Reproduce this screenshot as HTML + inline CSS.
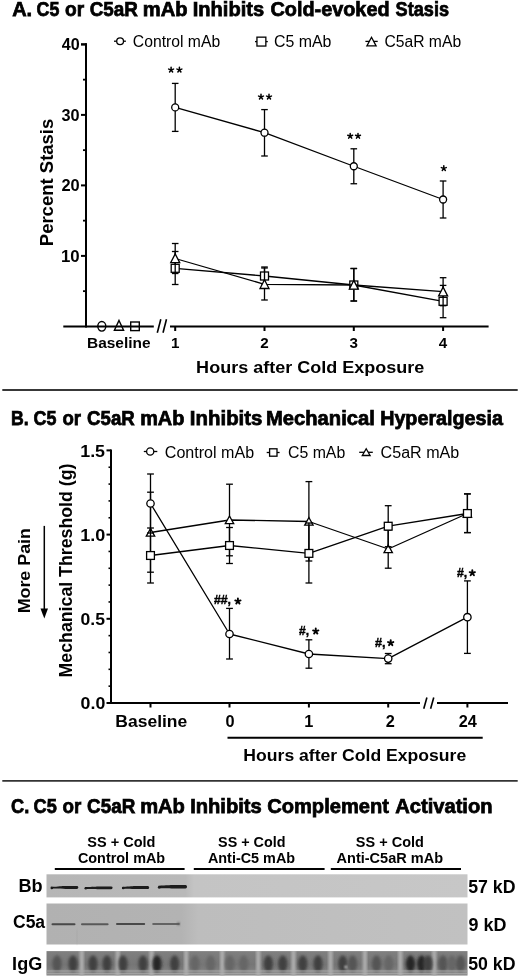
<!DOCTYPE html>
<html><head><meta charset="utf-8"><style>
html,body{margin:0;padding:0;background:#fff;}
svg{display:block;font-family:"Liberation Sans",sans-serif;will-change:transform;opacity:0.999;}
</style></head><body>
<svg width="520" height="980" viewBox="0 0 520 980">
<defs>
<filter id="bl1" x="-20%" y="-100%" width="140%" height="300%"><feGaussianBlur stdDeviation="0.8"/></filter>
<filter id="bl05" x="-20%" y="-100%" width="140%" height="300%"><feGaussianBlur stdDeviation="0.5"/></filter>
<filter id="bl2" x="-100%" y="-100%" width="300%" height="300%"><feGaussianBlur stdDeviation="1.8"/></filter>
<linearGradient id="gIg" x1="0" x2="0" y1="951" y2="975.5" gradientUnits="userSpaceOnUse"><stop offset="0" stop-color="#808080"/><stop offset="0.2" stop-color="#7c7c7c"/><stop offset="0.55" stop-color="#767676"/><stop offset="1" stop-color="#858585"/></linearGradient>
<clipPath id="cIgG"><rect x="46.5" y="951.1" width="421" height="24.4"/></clipPath>
<linearGradient id="gBb" x1="46.5" x2="467.5" y1="0" y2="0" gradientUnits="userSpaceOnUse">
<stop offset="0" stop-color="#b6b6b6"/><stop offset="0.33" stop-color="#b9b9b9"/><stop offset="0.35" stop-color="#c4c4c4"/><stop offset="1" stop-color="#c7c7c7"/></linearGradient>
<linearGradient id="gC5" x1="46.5" x2="467.5" y1="0" y2="0" gradientUnits="userSpaceOnUse">
<stop offset="0" stop-color="#b1b1b1"/><stop offset="0.32" stop-color="#b3b3b3"/><stop offset="0.36" stop-color="#bdbdbd"/><stop offset="1" stop-color="#c1c1c1"/></linearGradient>
</defs>
<rect width="520" height="980" fill="#fff"/>
<text x="12.15" y="16.30" font-size="20.40" font-weight="bold" textLength="20.00" lengthAdjust="spacingAndGlyphs" fill="#000" stroke="#000" stroke-width="0.75">A.</text>
<text x="36.54" y="16.30" font-size="20.40" font-weight="bold" textLength="22.82" lengthAdjust="spacingAndGlyphs" fill="#000" stroke="#000" stroke-width="0.75">C5</text>
<text x="65.08" y="16.30" font-size="20.40" font-weight="bold" textLength="19.15" lengthAdjust="spacingAndGlyphs" fill="#000" stroke="#000" stroke-width="0.75">or</text>
<text x="89.70" y="16.30" font-size="20.40" font-weight="bold" textLength="48.16" lengthAdjust="spacingAndGlyphs" fill="#000" stroke="#000" stroke-width="0.75">C5aR</text>
<text x="142.74" y="16.30" font-size="20.40" font-weight="bold" textLength="44.76" lengthAdjust="spacingAndGlyphs" fill="#000" stroke="#000" stroke-width="0.75">mAb</text>
<text x="192.74" y="16.30" font-size="20.40" font-weight="bold" textLength="71.41" lengthAdjust="spacingAndGlyphs" fill="#000" stroke="#000" stroke-width="0.75">Inhibits</text>
<text x="270.46" y="16.30" font-size="20.40" font-weight="bold" textLength="119.11" lengthAdjust="spacingAndGlyphs" fill="#000" stroke="#000" stroke-width="0.75">Cold-evoked</text>
<text x="395.61" y="16.30" font-size="20.40" font-weight="bold" textLength="53.39" lengthAdjust="spacingAndGlyphs" fill="#000" stroke="#000" stroke-width="0.75">Stasis</text>
<line x1="86.00" y1="43.20" x2="86.00" y2="327.40" stroke="#000" stroke-width="2.0" />
<line x1="63.30" y1="326.40" x2="153.80" y2="326.40" stroke="#000" stroke-width="2.0" />
<line x1="170.00" y1="326.40" x2="488.60" y2="326.40" stroke="#000" stroke-width="2.0" />
<line x1="160.80" y1="319.20" x2="157.30" y2="332.70" stroke="#000" stroke-width="1.6" />
<line x1="166.50" y1="319.20" x2="163.00" y2="332.70" stroke="#000" stroke-width="1.6" />
<line x1="81.00" y1="255.90" x2="86.00" y2="255.90" stroke="#000" stroke-width="2.0" />
<line x1="81.00" y1="185.40" x2="86.00" y2="185.40" stroke="#000" stroke-width="2.0" />
<line x1="81.00" y1="114.90" x2="86.00" y2="114.90" stroke="#000" stroke-width="2.0" />
<line x1="81.00" y1="44.40" x2="86.00" y2="44.40" stroke="#000" stroke-width="2.0" />
<line x1="83.00" y1="291.15" x2="86.00" y2="291.15" stroke="#000" stroke-width="1.8" />
<line x1="83.00" y1="220.65" x2="86.00" y2="220.65" stroke="#000" stroke-width="1.8" />
<line x1="83.00" y1="150.15" x2="86.00" y2="150.15" stroke="#000" stroke-width="1.8" />
<line x1="83.00" y1="79.65" x2="86.00" y2="79.65" stroke="#000" stroke-width="1.8" />
<line x1="81.00" y1="44.40" x2="87.00" y2="44.40" stroke="#000" stroke-width="2.0" />
<text x="61.76" y="50.00" font-size="15.60" font-weight="bold" textLength="17.92" lengthAdjust="spacingAndGlyphs" fill="#000" >40</text>
<text x="61.59" y="120.50" font-size="15.60" font-weight="bold" textLength="18.10" lengthAdjust="spacingAndGlyphs" fill="#000" >30</text>
<text x="61.43" y="191.00" font-size="15.60" font-weight="bold" textLength="18.27" lengthAdjust="spacingAndGlyphs" fill="#000" >20</text>
<text x="60.99" y="261.50" font-size="15.60" font-weight="bold" textLength="18.72" lengthAdjust="spacingAndGlyphs" fill="#000" >10</text>
<line x1="175.20" y1="326.40" x2="175.20" y2="331.00" stroke="#000" stroke-width="2.0" />
<text x="175.20" y="347.60" font-size="15.20" font-weight="bold" text-anchor="middle" fill="#000">1</text>
<line x1="264.50" y1="326.40" x2="264.50" y2="331.00" stroke="#000" stroke-width="2.0" />
<text x="264.50" y="347.60" font-size="15.20" font-weight="bold" text-anchor="middle" fill="#000">2</text>
<line x1="353.80" y1="326.40" x2="353.80" y2="331.00" stroke="#000" stroke-width="2.0" />
<text x="353.80" y="347.60" font-size="15.20" font-weight="bold" text-anchor="middle" fill="#000">3</text>
<line x1="443.10" y1="326.40" x2="443.10" y2="331.00" stroke="#000" stroke-width="2.0" />
<text x="443.10" y="347.60" font-size="15.20" font-weight="bold" text-anchor="middle" fill="#000">4</text>
<text x="87.00" y="347.50" font-size="15.00" font-weight="bold" textLength="63.60" lengthAdjust="spacingAndGlyphs" fill="#000" >Baseline</text>
<text x="196.13" y="372.50" font-size="17.20" font-weight="bold" textLength="228.19" lengthAdjust="spacingAndGlyphs" fill="#000" >Hours after Cold Exposure</text>
<text transform="translate(53.40,246.20) rotate(-90)" x="0" y="0" font-size="17.80" font-weight="bold" textLength="127.49" lengthAdjust="spacingAndGlyphs" fill="#000" >Percent Stasis</text>
<ellipse cx="101.8" cy="326.3" rx="4.0" ry="4.8" fill="none" stroke="#000" stroke-width="1.4"/>
<polygon points="119.00,320.50 123.60,330.20 114.40,330.20" fill="none" stroke="#000" stroke-width="1.4" stroke-linejoin="miter"/>
<rect x="130.70" y="322.00" width="8.6" height="8.6" fill="none" stroke="#000" stroke-width="1.4"/>
<line x1="114.00" y1="41.20" x2="125.90" y2="41.20" stroke="#000" stroke-width="1.3" />
<circle cx="120.10" cy="41.20" r="3.4" fill="#fff" stroke="#000" stroke-width="1.3"/>
<text x="132.81" y="47.20" font-size="15.60" font-weight="normal" textLength="87.36" lengthAdjust="spacingAndGlyphs" fill="#000" >Control mAb</text>
<line x1="255.00" y1="41.60" x2="267.80" y2="41.60" stroke="#000" stroke-width="1.3" />
<rect x="256.95" y="37.15" width="8.9" height="8.9" fill="#fff" stroke="#000" stroke-width="1.3"/>
<text x="274.00" y="47.20" font-size="15.60" font-weight="normal" textLength="57.47" lengthAdjust="spacingAndGlyphs" fill="#000" >C5 mAb</text>
<line x1="365.40" y1="41.40" x2="377.70" y2="41.40" stroke="#000" stroke-width="1.3" />
<polygon points="371.50,37.30 376.10,45.90 366.90,45.90" fill="#fff" stroke="#000" stroke-width="1.3" stroke-linejoin="miter"/>
<text x="384.42" y="47.20" font-size="15.60" font-weight="normal" textLength="76.72" lengthAdjust="spacingAndGlyphs" fill="#000" >C5aR mAb</text>
<line x1="175.20" y1="83.40" x2="175.20" y2="131.40" stroke="#000" stroke-width="1.3" /><line x1="171.90" y1="83.40" x2="178.50" y2="83.40" stroke="#000" stroke-width="1.3" /><line x1="171.90" y1="131.40" x2="178.50" y2="131.40" stroke="#000" stroke-width="1.3" />
<line x1="264.50" y1="109.60" x2="264.50" y2="156.00" stroke="#000" stroke-width="1.3" /><line x1="261.20" y1="109.60" x2="267.80" y2="109.60" stroke="#000" stroke-width="1.3" /><line x1="261.20" y1="156.00" x2="267.80" y2="156.00" stroke="#000" stroke-width="1.3" />
<line x1="353.80" y1="148.80" x2="353.80" y2="183.75" stroke="#000" stroke-width="1.3" /><line x1="350.50" y1="148.80" x2="357.10" y2="148.80" stroke="#000" stroke-width="1.3" /><line x1="350.50" y1="183.75" x2="357.10" y2="183.75" stroke="#000" stroke-width="1.3" />
<line x1="443.10" y1="181.00" x2="443.10" y2="218.00" stroke="#000" stroke-width="1.3" /><line x1="439.80" y1="181.00" x2="446.40" y2="181.00" stroke="#000" stroke-width="1.3" /><line x1="439.80" y1="218.00" x2="446.40" y2="218.00" stroke="#000" stroke-width="1.3" />
<polyline points="175.20,107.40 264.50,132.70 353.80,166.25 443.10,199.50" fill="none" stroke="#000" stroke-width="1.3" stroke-linejoin="round"/>
<circle cx="175.20" cy="107.40" r="3.5" fill="#fff" stroke="#000" stroke-width="1.3"/>
<circle cx="264.50" cy="132.70" r="3.5" fill="#fff" stroke="#000" stroke-width="1.3"/>
<circle cx="353.80" cy="166.25" r="3.5" fill="#fff" stroke="#000" stroke-width="1.3"/>
<circle cx="443.10" cy="199.50" r="3.5" fill="#fff" stroke="#000" stroke-width="1.3"/>
<line x1="175.20" y1="251.50" x2="175.20" y2="284.50" stroke="#000" stroke-width="1.3" /><line x1="171.90" y1="251.50" x2="178.50" y2="251.50" stroke="#000" stroke-width="1.3" /><line x1="171.90" y1="284.50" x2="178.50" y2="284.50" stroke="#000" stroke-width="1.3" />
<line x1="264.50" y1="267.00" x2="264.50" y2="285.00" stroke="#000" stroke-width="1.3" /><line x1="261.20" y1="267.00" x2="267.80" y2="267.00" stroke="#000" stroke-width="1.3" /><line x1="261.20" y1="285.00" x2="267.80" y2="285.00" stroke="#000" stroke-width="1.3" />
<line x1="353.80" y1="268.50" x2="353.80" y2="301.00" stroke="#000" stroke-width="1.3" /><line x1="350.50" y1="268.50" x2="357.10" y2="268.50" stroke="#000" stroke-width="1.3" /><line x1="350.50" y1="301.00" x2="357.10" y2="301.00" stroke="#000" stroke-width="1.3" />
<line x1="443.10" y1="285.40" x2="443.10" y2="317.70" stroke="#000" stroke-width="1.3" /><line x1="439.80" y1="285.40" x2="446.40" y2="285.40" stroke="#000" stroke-width="1.3" /><line x1="439.80" y1="317.70" x2="446.40" y2="317.70" stroke="#000" stroke-width="1.3" />
<polyline points="175.20,268.30 264.50,276.00 353.80,285.00 443.10,301.30" fill="none" stroke="#000" stroke-width="1.3" stroke-linejoin="round"/>
<rect x="171.20" y="264.30" width="8.0" height="8.0" fill="#fff" stroke="#000" stroke-width="1.3"/>
<rect x="260.50" y="272.00" width="8.0" height="8.0" fill="#fff" stroke="#000" stroke-width="1.3"/>
<rect x="349.80" y="281.00" width="8.0" height="8.0" fill="#fff" stroke="#000" stroke-width="1.3"/>
<rect x="439.10" y="297.30" width="8.0" height="8.0" fill="#fff" stroke="#000" stroke-width="1.3"/>
<line x1="175.20" y1="243.50" x2="175.20" y2="273.50" stroke="#000" stroke-width="1.3" /><line x1="171.90" y1="243.50" x2="178.50" y2="243.50" stroke="#000" stroke-width="1.3" /><line x1="171.90" y1="273.50" x2="178.50" y2="273.50" stroke="#000" stroke-width="1.3" />
<line x1="264.50" y1="268.00" x2="264.50" y2="300.00" stroke="#000" stroke-width="1.3" /><line x1="261.20" y1="268.00" x2="267.80" y2="268.00" stroke="#000" stroke-width="1.3" /><line x1="261.20" y1="300.00" x2="267.80" y2="300.00" stroke="#000" stroke-width="1.3" />
<line x1="353.80" y1="268.50" x2="353.80" y2="301.00" stroke="#000" stroke-width="1.3" /><line x1="350.50" y1="268.50" x2="357.10" y2="268.50" stroke="#000" stroke-width="1.3" /><line x1="350.50" y1="301.00" x2="357.10" y2="301.00" stroke="#000" stroke-width="1.3" />
<line x1="443.10" y1="277.70" x2="443.10" y2="305.70" stroke="#000" stroke-width="1.3" /><line x1="439.80" y1="277.70" x2="446.40" y2="277.70" stroke="#000" stroke-width="1.3" /><line x1="439.80" y1="305.70" x2="446.40" y2="305.70" stroke="#000" stroke-width="1.3" />
<polyline points="175.20,258.50 264.50,284.30 353.80,285.00 443.10,291.70" fill="none" stroke="#000" stroke-width="1.3" stroke-linejoin="round"/>
<polygon points="175.20,253.90 179.70,262.70 170.70,262.70" fill="#fff" stroke="#000" stroke-width="1.3" stroke-linejoin="miter"/>
<polygon points="264.50,279.70 269.00,288.50 260.00,288.50" fill="#fff" stroke="#000" stroke-width="1.3" stroke-linejoin="miter"/>
<polygon points="353.80,280.40 358.30,289.20 349.30,289.20" fill="#fff" stroke="#000" stroke-width="1.3" stroke-linejoin="miter"/>
<polygon points="443.10,287.10 447.60,295.90 438.60,295.90" fill="#fff" stroke="#000" stroke-width="1.3" stroke-linejoin="miter"/>
<path d="M171.10,69.90L171.10,67.30M171.10,69.90L173.57,69.10M171.10,69.90L172.63,72.00M171.10,69.90L169.57,72.00M171.10,69.90L168.63,69.10" stroke="#000" stroke-width="1.5" stroke-linecap="round" fill="none"/>
<path d="M179.40,69.90L179.40,67.30M179.40,69.90L181.87,69.10M179.40,69.90L180.93,72.00M179.40,69.90L177.87,72.00M179.40,69.90L176.93,69.10" stroke="#000" stroke-width="1.5" stroke-linecap="round" fill="none"/>
<path d="M261.00,96.90L261.00,94.30M261.00,96.90L263.47,96.10M261.00,96.90L262.53,99.00M261.00,96.90L259.47,99.00M261.00,96.90L258.53,96.10" stroke="#000" stroke-width="1.5" stroke-linecap="round" fill="none"/>
<path d="M269.00,96.90L269.00,94.30M269.00,96.90L271.47,96.10M269.00,96.90L270.53,99.00M269.00,96.90L267.47,99.00M269.00,96.90L266.53,96.10" stroke="#000" stroke-width="1.5" stroke-linecap="round" fill="none"/>
<path d="M350.20,136.00L350.20,133.40M350.20,136.00L352.67,135.20M350.20,136.00L351.73,138.10M350.20,136.00L348.67,138.10M350.20,136.00L347.73,135.20" stroke="#000" stroke-width="1.5" stroke-linecap="round" fill="none"/>
<path d="M358.00,136.00L358.00,133.40M358.00,136.00L360.47,135.20M358.00,136.00L359.53,138.10M358.00,136.00L356.47,138.10M358.00,136.00L355.53,135.20" stroke="#000" stroke-width="1.5" stroke-linecap="round" fill="none"/>
<path d="M443.80,168.40L443.80,165.80M443.80,168.40L446.27,167.60M443.80,168.40L445.33,170.50M443.80,168.40L442.27,170.50M443.80,168.40L441.33,167.60" stroke="#000" stroke-width="1.5" stroke-linecap="round" fill="none"/>
<line x1="2.30" y1="390.00" x2="517.70" y2="390.00" stroke="#383838" stroke-width="1.8" />
<text x="11.00" y="424.70" font-size="20.40" font-weight="bold" textLength="17.69" lengthAdjust="spacingAndGlyphs" fill="#000" stroke="#000" stroke-width="0.75">B.</text>
<text x="33.53" y="424.70" font-size="20.40" font-weight="bold" textLength="22.93" lengthAdjust="spacingAndGlyphs" fill="#000" stroke="#000" stroke-width="0.75">C5</text>
<text x="62.51" y="424.70" font-size="20.40" font-weight="bold" textLength="18.62" lengthAdjust="spacingAndGlyphs" fill="#000" stroke="#000" stroke-width="0.75">or</text>
<text x="87.10" y="424.70" font-size="20.40" font-weight="bold" textLength="47.65" lengthAdjust="spacingAndGlyphs" fill="#000" stroke="#000" stroke-width="0.75">C5aR</text>
<text x="140.16" y="424.70" font-size="20.40" font-weight="bold" textLength="44.23" lengthAdjust="spacingAndGlyphs" fill="#000" stroke="#000" stroke-width="0.75">mAb</text>
<text x="189.82" y="424.70" font-size="20.40" font-weight="bold" textLength="72.65" lengthAdjust="spacingAndGlyphs" fill="#000" stroke="#000" stroke-width="0.75">Inhibits</text>
<text x="266.04" y="424.70" font-size="20.40" font-weight="bold" textLength="108.75" lengthAdjust="spacingAndGlyphs" fill="#000" stroke="#000" stroke-width="0.75">Mechanical</text>
<text x="380.17" y="424.70" font-size="20.40" font-weight="bold" textLength="122.80" lengthAdjust="spacingAndGlyphs" fill="#000" stroke="#000" stroke-width="0.75">Hyperalgesia</text>
<line x1="111.00" y1="449.50" x2="111.00" y2="704.00" stroke="#000" stroke-width="2.0" />
<line x1="107.50" y1="703.00" x2="420.00" y2="703.00" stroke="#000" stroke-width="2.0" />
<line x1="437.00" y1="703.00" x2="508.00" y2="703.00" stroke="#000" stroke-width="2.0" />
<line x1="426.90" y1="697.50" x2="423.75" y2="708.75" stroke="#000" stroke-width="1.6" />
<line x1="433.75" y1="697.50" x2="430.60" y2="708.75" stroke="#000" stroke-width="1.6" />
<line x1="106.50" y1="703.00" x2="111.00" y2="703.00" stroke="#000" stroke-width="2.0" />
<line x1="108.50" y1="686.16" x2="111.00" y2="686.16" stroke="#000" stroke-width="1.6" />
<line x1="108.50" y1="669.32" x2="111.00" y2="669.32" stroke="#000" stroke-width="1.6" />
<line x1="108.50" y1="652.48" x2="111.00" y2="652.48" stroke="#000" stroke-width="1.6" />
<line x1="108.50" y1="635.64" x2="111.00" y2="635.64" stroke="#000" stroke-width="1.6" />
<line x1="106.50" y1="618.80" x2="111.00" y2="618.80" stroke="#000" stroke-width="2.0" />
<line x1="108.50" y1="601.96" x2="111.00" y2="601.96" stroke="#000" stroke-width="1.6" />
<line x1="108.50" y1="585.12" x2="111.00" y2="585.12" stroke="#000" stroke-width="1.6" />
<line x1="108.50" y1="568.28" x2="111.00" y2="568.28" stroke="#000" stroke-width="1.6" />
<line x1="108.50" y1="551.44" x2="111.00" y2="551.44" stroke="#000" stroke-width="1.6" />
<line x1="106.50" y1="534.60" x2="111.00" y2="534.60" stroke="#000" stroke-width="2.0" />
<line x1="108.50" y1="517.76" x2="111.00" y2="517.76" stroke="#000" stroke-width="1.6" />
<line x1="108.50" y1="500.92" x2="111.00" y2="500.92" stroke="#000" stroke-width="1.6" />
<line x1="108.50" y1="484.08" x2="111.00" y2="484.08" stroke="#000" stroke-width="1.6" />
<line x1="108.50" y1="467.24" x2="111.00" y2="467.24" stroke="#000" stroke-width="1.6" />
<line x1="106.50" y1="450.40" x2="111.00" y2="450.40" stroke="#000" stroke-width="2.0" />
<text x="80.23" y="456.70" font-size="17.40" font-weight="bold" textLength="24.82" lengthAdjust="spacingAndGlyphs" fill="#000" >1.5</text>
<text x="80.22" y="540.90" font-size="17.40" font-weight="bold" textLength="25.11" lengthAdjust="spacingAndGlyphs" fill="#000" >1.0</text>
<text x="80.60" y="625.10" font-size="17.40" font-weight="bold" textLength="24.45" lengthAdjust="spacingAndGlyphs" fill="#000" >0.5</text>
<text x="80.59" y="709.30" font-size="17.40" font-weight="bold" textLength="24.73" lengthAdjust="spacingAndGlyphs" fill="#000" >0.0</text>
<line x1="150.50" y1="703.00" x2="150.50" y2="707.50" stroke="#000" stroke-width="2.0" />
<line x1="229.50" y1="703.00" x2="229.50" y2="707.50" stroke="#000" stroke-width="2.0" />
<line x1="308.90" y1="703.00" x2="308.90" y2="707.50" stroke="#000" stroke-width="2.0" />
<line x1="388.20" y1="703.00" x2="388.20" y2="707.50" stroke="#000" stroke-width="2.0" />
<line x1="467.40" y1="703.00" x2="467.40" y2="707.50" stroke="#000" stroke-width="2.0" />
<text x="115.36" y="726.60" font-size="16.80" font-weight="bold" textLength="71.91" lengthAdjust="spacingAndGlyphs" fill="#000" >Baseline</text>
<text x="230.10" y="727.40" font-size="16.30" font-weight="bold" text-anchor="middle" fill="#000">0</text>
<text x="308.90" y="727.40" font-size="16.30" font-weight="bold" text-anchor="middle" fill="#000">1</text>
<text x="390.20" y="727.40" font-size="16.30" font-weight="bold" text-anchor="middle" fill="#000">2</text>
<text x="467.70" y="727.40" font-size="16.30" font-weight="bold" text-anchor="middle" fill="#000">24</text>
<line x1="227.50" y1="737.80" x2="482.70" y2="737.80" stroke="#000" stroke-width="2.0" />
<text x="243.36" y="760.90" font-size="16.80" font-weight="bold" textLength="222.85" lengthAdjust="spacingAndGlyphs" fill="#000" >Hours after Cold Exposure</text>
<text transform="translate(72.20,677.45) rotate(-90)" x="0" y="0" font-size="17.60" font-weight="bold" textLength="213.89" lengthAdjust="spacingAndGlyphs" fill="#000" >Mechanical Threshold (g)</text>
<text transform="translate(29.80,613.36) rotate(-90)" x="0" y="0" font-size="17.40" font-weight="bold" textLength="85.31" lengthAdjust="spacingAndGlyphs" fill="#000" >More Pain</text>
<line x1="44.30" y1="525.90" x2="44.30" y2="610.00" stroke="#000" stroke-width="1.5" />
<polygon points="40.5,608.5 48,608.5 44.3,618.5" fill="#000"/>
<line x1="143.80" y1="451.50" x2="157.30" y2="451.50" stroke="#000" stroke-width="1.3" />
<circle cx="150.20" cy="451.50" r="3.6" fill="#fff" stroke="#000" stroke-width="1.3"/>
<text x="164.80" y="457.60" font-size="15.80" font-weight="normal" textLength="89.29" lengthAdjust="spacingAndGlyphs" fill="#000" >Control mAb</text>
<line x1="266.70" y1="452.50" x2="279.60" y2="452.50" stroke="#000" stroke-width="1.3" />
<rect x="269.60" y="448.80" width="7.4" height="7.4" fill="#fff" stroke="#000" stroke-width="1.3"/>
<text x="288.01" y="457.60" font-size="15.80" font-weight="normal" textLength="57.27" lengthAdjust="spacingAndGlyphs" fill="#000" >C5 mAb</text>
<line x1="359.20" y1="452.30" x2="372.80" y2="452.30" stroke="#000" stroke-width="1.3" />
<polygon points="366.20,448.70 370.10,455.50 362.30,455.50" fill="#fff" stroke="#000" stroke-width="1.3" stroke-linejoin="miter"/>
<text x="380.60" y="457.60" font-size="15.80" font-weight="normal" textLength="78.66" lengthAdjust="spacingAndGlyphs" fill="#000" >C5aR mAb</text>
<line x1="150.50" y1="492.20" x2="150.50" y2="572.20" stroke="#000" stroke-width="1.3" /><line x1="147.10" y1="492.20" x2="153.90" y2="492.20" stroke="#000" stroke-width="1.3" /><line x1="147.10" y1="572.20" x2="153.90" y2="572.20" stroke="#000" stroke-width="1.3" />
<line x1="229.50" y1="484.20" x2="229.50" y2="555.80" stroke="#000" stroke-width="1.3" /><line x1="226.10" y1="484.20" x2="232.90" y2="484.20" stroke="#000" stroke-width="1.3" /><line x1="226.10" y1="555.80" x2="232.90" y2="555.80" stroke="#000" stroke-width="1.3" />
<line x1="308.90" y1="481.60" x2="308.90" y2="561.00" stroke="#000" stroke-width="1.3" /><line x1="305.50" y1="481.60" x2="312.30" y2="481.60" stroke="#000" stroke-width="1.3" /><line x1="305.50" y1="561.00" x2="312.30" y2="561.00" stroke="#000" stroke-width="1.3" />
<line x1="388.20" y1="530.00" x2="388.20" y2="568.20" stroke="#000" stroke-width="1.3" /><line x1="384.80" y1="530.00" x2="391.60" y2="530.00" stroke="#000" stroke-width="1.3" /><line x1="384.80" y1="568.20" x2="391.60" y2="568.20" stroke="#000" stroke-width="1.3" />
<line x1="467.40" y1="493.90" x2="467.40" y2="532.60" stroke="#000" stroke-width="1.3" /><line x1="464.00" y1="493.90" x2="470.80" y2="493.90" stroke="#000" stroke-width="1.3" /><line x1="464.00" y1="532.60" x2="470.80" y2="532.60" stroke="#000" stroke-width="1.3" />
<polyline points="150.50,532.50 229.50,520.00 308.90,521.50 388.20,549.00 467.40,513.50" fill="none" stroke="#000" stroke-width="1.3" stroke-linejoin="round"/>
<polygon points="150.50,528.50 154.70,536.10 146.30,536.10" fill="#fff" stroke="#000" stroke-width="1.3" stroke-linejoin="miter"/>
<polygon points="229.50,516.00 233.70,523.60 225.30,523.60" fill="#fff" stroke="#000" stroke-width="1.3" stroke-linejoin="miter"/>
<polygon points="308.90,517.50 313.10,525.10 304.70,525.10" fill="#fff" stroke="#000" stroke-width="1.3" stroke-linejoin="miter"/>
<polygon points="388.20,545.00 392.40,552.60 384.00,552.60" fill="#fff" stroke="#000" stroke-width="1.3" stroke-linejoin="miter"/>
<polygon points="467.40,509.50 471.60,517.10 463.20,517.10" fill="#fff" stroke="#000" stroke-width="1.3" stroke-linejoin="miter"/>
<line x1="150.50" y1="528.00" x2="150.50" y2="583.00" stroke="#000" stroke-width="1.3" /><line x1="147.10" y1="528.00" x2="153.90" y2="528.00" stroke="#000" stroke-width="1.3" /><line x1="147.10" y1="583.00" x2="153.90" y2="583.00" stroke="#000" stroke-width="1.3" />
<line x1="229.50" y1="527.50" x2="229.50" y2="563.50" stroke="#000" stroke-width="1.3" /><line x1="226.10" y1="527.50" x2="232.90" y2="527.50" stroke="#000" stroke-width="1.3" /><line x1="226.10" y1="563.50" x2="232.90" y2="563.50" stroke="#000" stroke-width="1.3" />
<line x1="308.90" y1="523.00" x2="308.90" y2="583.00" stroke="#000" stroke-width="1.3" /><line x1="305.50" y1="523.00" x2="312.30" y2="523.00" stroke="#000" stroke-width="1.3" /><line x1="305.50" y1="583.00" x2="312.30" y2="583.00" stroke="#000" stroke-width="1.3" />
<line x1="388.20" y1="505.70" x2="388.20" y2="546.70" stroke="#000" stroke-width="1.3" /><line x1="384.80" y1="505.70" x2="391.60" y2="505.70" stroke="#000" stroke-width="1.3" /><line x1="384.80" y1="546.70" x2="391.60" y2="546.70" stroke="#000" stroke-width="1.3" />
<line x1="467.40" y1="493.90" x2="467.40" y2="532.60" stroke="#000" stroke-width="1.3" /><line x1="464.00" y1="493.90" x2="470.80" y2="493.90" stroke="#000" stroke-width="1.3" /><line x1="464.00" y1="532.60" x2="470.80" y2="532.60" stroke="#000" stroke-width="1.3" />
<polyline points="150.50,555.50 229.50,545.50 308.90,553.40 388.20,526.20 467.40,513.50" fill="none" stroke="#000" stroke-width="1.3" stroke-linejoin="round"/>
<rect x="146.60" y="551.60" width="7.8" height="7.8" fill="#fff" stroke="#000" stroke-width="1.3"/>
<rect x="225.60" y="541.60" width="7.8" height="7.8" fill="#fff" stroke="#000" stroke-width="1.3"/>
<rect x="305.00" y="549.50" width="7.8" height="7.8" fill="#fff" stroke="#000" stroke-width="1.3"/>
<rect x="384.30" y="522.30" width="7.8" height="7.8" fill="#fff" stroke="#000" stroke-width="1.3"/>
<rect x="463.50" y="509.60" width="7.8" height="7.8" fill="#fff" stroke="#000" stroke-width="1.3"/>
<line x1="150.50" y1="474.00" x2="150.50" y2="533.00" stroke="#000" stroke-width="1.3" /><line x1="147.10" y1="474.00" x2="153.90" y2="474.00" stroke="#000" stroke-width="1.3" /><line x1="147.10" y1="533.00" x2="153.90" y2="533.00" stroke="#000" stroke-width="1.3" />
<line x1="229.50" y1="608.40" x2="229.50" y2="659.00" stroke="#000" stroke-width="1.3" /><line x1="226.10" y1="608.40" x2="232.90" y2="608.40" stroke="#000" stroke-width="1.3" /><line x1="226.10" y1="659.00" x2="232.90" y2="659.00" stroke="#000" stroke-width="1.3" />
<line x1="308.90" y1="639.80" x2="308.90" y2="668.20" stroke="#000" stroke-width="1.3" /><line x1="305.50" y1="639.80" x2="312.30" y2="639.80" stroke="#000" stroke-width="1.3" /><line x1="305.50" y1="668.20" x2="312.30" y2="668.20" stroke="#000" stroke-width="1.3" />
<line x1="388.20" y1="653.50" x2="388.20" y2="663.70" stroke="#000" stroke-width="1.3" /><line x1="384.80" y1="653.50" x2="391.60" y2="653.50" stroke="#000" stroke-width="1.3" /><line x1="384.80" y1="663.70" x2="391.60" y2="663.70" stroke="#000" stroke-width="1.3" />
<line x1="467.40" y1="580.90" x2="467.40" y2="653.40" stroke="#000" stroke-width="1.3" /><line x1="464.00" y1="580.90" x2="470.80" y2="580.90" stroke="#000" stroke-width="1.3" /><line x1="464.00" y1="653.40" x2="470.80" y2="653.40" stroke="#000" stroke-width="1.3" />
<polyline points="150.50,503.50 229.50,634.00 308.90,654.00 388.20,658.60 467.40,617.20" fill="none" stroke="#000" stroke-width="1.3" stroke-linejoin="round"/>
<circle cx="150.50" cy="503.50" r="3.7" fill="#fff" stroke="#000" stroke-width="1.3"/>
<circle cx="229.50" cy="634.00" r="3.7" fill="#fff" stroke="#000" stroke-width="1.3"/>
<circle cx="308.90" cy="654.00" r="3.7" fill="#fff" stroke="#000" stroke-width="1.3"/>
<circle cx="388.20" cy="658.60" r="3.7" fill="#fff" stroke="#000" stroke-width="1.3"/>
<circle cx="467.40" cy="617.20" r="3.7" fill="#fff" stroke="#000" stroke-width="1.3"/>
<text x="213.91" y="604.00" font-size="13.50" font-weight="bold" textLength="17.15" lengthAdjust="spacingAndGlyphs" fill="#000" stroke="#000" stroke-width="0.45">##,</text>
<path d="M237.90,601.30L237.90,598.50M237.90,601.30L240.56,600.43M237.90,601.30L239.55,603.57M237.90,601.30L236.25,603.57M237.90,601.30L235.24,600.43" stroke="#000" stroke-width="1.9" stroke-linecap="round" fill="none"/>
<text x="299.12" y="634.60" font-size="13.50" font-weight="bold" textLength="10.01" lengthAdjust="spacingAndGlyphs" fill="#000" stroke="#000" stroke-width="0.45">#,</text>
<path d="M315.75,631.30L315.75,628.50M315.75,631.30L318.41,630.43M315.75,631.30L317.40,633.57M315.75,631.30L314.10,633.57M315.75,631.30L313.09,630.43" stroke="#000" stroke-width="1.9" stroke-linecap="round" fill="none"/>
<text x="375.01" y="646.60" font-size="13.50" font-weight="bold" textLength="10.56" lengthAdjust="spacingAndGlyphs" fill="#000" stroke="#000" stroke-width="0.45">#,</text>
<path d="M390.70,642.90L390.70,640.10M390.70,642.90L393.36,642.03M390.70,642.90L392.35,645.17M390.70,642.90L389.05,645.17M390.70,642.90L388.04,642.03" stroke="#000" stroke-width="1.9" stroke-linecap="round" fill="none"/>
<text x="456.92" y="576.60" font-size="13.50" font-weight="bold" textLength="10.23" lengthAdjust="spacingAndGlyphs" fill="#000" stroke="#000" stroke-width="0.45">#,</text>
<path d="M472.30,573.00L472.30,570.20M472.30,573.00L474.96,572.13M472.30,573.00L473.95,575.27M472.30,573.00L470.65,575.27M472.30,573.00L469.64,572.13" stroke="#000" stroke-width="1.9" stroke-linecap="round" fill="none"/>
<line x1="2.30" y1="780.80" x2="517.70" y2="780.80" stroke="#333" stroke-width="1.8" />
<text x="11.02" y="812.90" font-size="20.40" font-weight="bold" textLength="18.20" lengthAdjust="spacingAndGlyphs" fill="#000" stroke="#000" stroke-width="0.75">C.</text>
<text x="33.52" y="812.90" font-size="20.40" font-weight="bold" textLength="23.24" lengthAdjust="spacingAndGlyphs" fill="#000" stroke="#000" stroke-width="0.75">C5</text>
<text x="62.50" y="812.90" font-size="20.40" font-weight="bold" textLength="18.84" lengthAdjust="spacingAndGlyphs" fill="#000" stroke="#000" stroke-width="0.75">or</text>
<text x="87.10" y="812.90" font-size="20.40" font-weight="bold" textLength="48.16" lengthAdjust="spacingAndGlyphs" fill="#000" stroke="#000" stroke-width="0.75">C5aR</text>
<text x="140.14" y="812.90" font-size="20.40" font-weight="bold" textLength="44.76" lengthAdjust="spacingAndGlyphs" fill="#000" stroke="#000" stroke-width="0.75">mAb</text>
<text x="190.14" y="812.90" font-size="20.40" font-weight="bold" textLength="71.62" lengthAdjust="spacingAndGlyphs" fill="#000" stroke="#000" stroke-width="0.75">Inhibits</text>
<text x="267.15" y="812.90" font-size="20.40" font-weight="bold" textLength="121.83" lengthAdjust="spacingAndGlyphs" fill="#000" stroke="#000" stroke-width="0.75">Complement</text>
<text x="395.25" y="812.90" font-size="20.40" font-weight="bold" textLength="97.29" lengthAdjust="spacingAndGlyphs" fill="#000" stroke="#000" stroke-width="0.75">Activation</text>
<text x="87.26" y="846.60" font-size="14.60" font-weight="bold" textLength="68.19" lengthAdjust="spacingAndGlyphs" fill="#000" >SS + Cold</text>
<text x="77.92" y="863.10" font-size="14.60" font-weight="bold" textLength="87.25" lengthAdjust="spacingAndGlyphs" fill="#000" >Control mAb</text>
<text x="218.07" y="846.60" font-size="14.60" font-weight="bold" textLength="67.47" lengthAdjust="spacingAndGlyphs" fill="#000" >SS + Cold</text>
<text x="207.94" y="863.10" font-size="14.60" font-weight="bold" textLength="87.14" lengthAdjust="spacingAndGlyphs" fill="#000" >Anti-C5 mAb</text>
<text x="355.87" y="846.60" font-size="14.60" font-weight="bold" textLength="68.08" lengthAdjust="spacingAndGlyphs" fill="#000" >SS + Cold</text>
<text x="336.54" y="863.10" font-size="14.60" font-weight="bold" textLength="106.52" lengthAdjust="spacingAndGlyphs" fill="#000" >Anti-C5aR mAb</text>
<line x1="54.80" y1="869.00" x2="184.60" y2="869.00" stroke="#000" stroke-width="2.0" />
<line x1="193.80" y1="869.00" x2="324.60" y2="869.00" stroke="#000" stroke-width="2.0" />
<line x1="330.80" y1="869.00" x2="461.00" y2="869.00" stroke="#000" stroke-width="2.0" />
<rect x="46.5" y="874.3" width="421" height="23.1" fill="url(#gBb)"/>
<rect x="46.5" y="903.5" width="421" height="41.0" fill="url(#gC5)"/>
<rect x="46.5" y="951.1" width="421" height="24.4" fill="url(#gIg)"/>
<g filter="url(#bl05)" fill="#1a1a1a"><path d="M51.1,887.0 C59.065,886.7 61.065,886.1 66.065,886.1 L76.8,886.1 Q78.3,886.1 78.3,887.5 Q78.3,888.9 76.8,888.9 L66.065,888.9 C61.065,888.9 59.065,888.3 51.1,888.5999999999999 Z"/><circle cx="51.800000000000004" cy="887.9" r="1.3"/></g>
<g filter="url(#bl05)" fill="#1a1a1a"><path d="M85.1,887.0999999999999 C93.19999999999999,886.8 95.19999999999999,886.4499999999999 100.19999999999999,886.4499999999999 L111.1,886.4499999999999 Q112.6,886.4499999999999 112.6,887.8 Q112.6,889.15 111.1,889.15 L100.19999999999999,889.15 C95.19999999999999,889.15 93.19999999999999,888.8 85.1,889.0999999999999 Z"/><circle cx="85.8" cy="888.1999999999999" r="1.3"/></g>
<g filter="url(#bl05)" fill="#1a1a1a"><path d="M122.5,886.9 C130.24,886.6 132.24,886.1 137.24,886.1 L147.7,886.1 Q149.2,886.1 149.2,887.6 Q149.2,889.1 147.7,889.1 L137.24,889.1 C132.24,889.1 130.24,888.6 122.5,888.9 Z"/><circle cx="123.2" cy="888.0" r="1.3"/></g>
<g filter="url(#bl05)" fill="#1a1a1a"><path d="M158.5,885.8 C167.05,885.5 169.05,885.0999999999999 174.05,885.0999999999999 L185.5,885.0999999999999 Q187.0,885.0999999999999 187.0,886.8 Q187.0,888.5 185.5,888.5 L174.05,888.5 C169.05,888.5 167.05,888.0999999999999 158.5,888.3999999999999 Z"/><circle cx="159.2" cy="887.1999999999999" r="1.3"/></g>
<rect x="51.5" y="923.3" width="24.0" height="2.0" rx="1" fill="#484848" filter="url(#bl05)"/>
<rect x="81" y="923.3499999999999" width="27.599999999999994" height="1.9" rx="1" fill="#595959" filter="url(#bl05)"/>
<rect x="116" y="923.0" width="29.19999999999999" height="2.0" rx="1" fill="#484848" filter="url(#bl05)"/>
<rect x="152.2" y="923.1" width="27.600000000000023" height="1.8" rx="1" fill="#646464" filter="url(#bl05)"/>
<circle cx="178.5" cy="923.8" r="1.4" fill="#555" filter="url(#bl1)"/>
<rect x="76.5" y="929" width="1" height="15" fill="#a5a5a5" filter="url(#bl1)"/>
<g clip-path="url(#cIgG)">
<rect x="79.5" y="945" width="4.4" height="36" fill="#ababab" filter="url(#bl1)"/>
<rect x="115.6" y="945" width="4.4" height="36" fill="#ababab" filter="url(#bl1)"/>
<rect x="149.3" y="945" width="4.4" height="36" fill="#ababab" filter="url(#bl1)"/>
<rect x="184.0" y="945" width="4.4" height="36" fill="#ababab" filter="url(#bl1)"/>
<rect x="220.0" y="945" width="4.4" height="36" fill="#ababab" filter="url(#bl1)"/>
<rect x="256.1" y="945" width="4.4" height="36" fill="#ababab" filter="url(#bl1)"/>
<rect x="291.3" y="945" width="4.4" height="36" fill="#ababab" filter="url(#bl1)"/>
<rect x="328.3" y="945" width="4.4" height="36" fill="#ababab" filter="url(#bl1)"/>
<rect x="362.7" y="945" width="4.4" height="36" fill="#ababab" filter="url(#bl1)"/>
<rect x="398.1" y="945" width="4.4" height="36" fill="#ababab" filter="url(#bl1)"/>
<rect x="432.1" y="945" width="4.4" height="36" fill="#ababab" filter="url(#bl1)"/>
<ellipse cx="57" cy="964.0" rx="4.6" ry="8.8" fill="#555" filter="url(#bl2)"/>
<ellipse cx="73" cy="964.0" rx="4.6" ry="8.8" fill="#404040" filter="url(#bl2)"/>
<ellipse cx="93" cy="964.0" rx="4.6" ry="8.8" fill="#404040" filter="url(#bl2)"/>
<ellipse cx="107" cy="964.0" rx="4.6" ry="8.8" fill="#404040" filter="url(#bl2)"/>
<ellipse cx="123" cy="964.0" rx="4.6" ry="8.8" fill="#404040" filter="url(#bl2)"/>
<ellipse cx="143" cy="964.0" rx="4.6" ry="8.8" fill="#404040" filter="url(#bl2)"/>
<ellipse cx="157" cy="964.0" rx="4.6" ry="8.8" fill="#282828" filter="url(#bl2)"/>
<ellipse cx="174.6" cy="964.0" rx="4.6" ry="8.8" fill="#404040" filter="url(#bl2)"/>
<ellipse cx="195" cy="964.0" rx="4.6" ry="8.8" fill="#666" filter="url(#bl2)"/>
<ellipse cx="210.6" cy="964.0" rx="4.6" ry="8.8" fill="#666" filter="url(#bl2)"/>
<ellipse cx="230" cy="964.0" rx="4.6" ry="8.8" fill="#666" filter="url(#bl2)"/>
<ellipse cx="243.7" cy="964.0" rx="4.6" ry="8.8" fill="#666" filter="url(#bl2)"/>
<ellipse cx="268.3" cy="964.0" rx="4.6" ry="8.8" fill="#404040" filter="url(#bl2)"/>
<ellipse cx="282.8" cy="964.0" rx="4.6" ry="8.8" fill="#404040" filter="url(#bl2)"/>
<ellipse cx="302.8" cy="964.0" rx="4.6" ry="8.8" fill="#404040" filter="url(#bl2)"/>
<ellipse cx="318" cy="964.0" rx="4.6" ry="8.8" fill="#404040" filter="url(#bl2)"/>
<ellipse cx="342.8" cy="964.0" rx="4.6" ry="8.8" fill="#404040" filter="url(#bl2)"/>
<ellipse cx="352.6" cy="964.0" rx="4.6" ry="8.8" fill="#555" filter="url(#bl2)"/>
<ellipse cx="376.5" cy="964.0" rx="4.6" ry="8.8" fill="#555" filter="url(#bl2)"/>
<ellipse cx="388.8" cy="964.0" rx="4.6" ry="8.8" fill="#666" filter="url(#bl2)"/>
<ellipse cx="410.5" cy="964.0" rx="4.6" ry="8.8" fill="#282828" filter="url(#bl2)"/>
<ellipse cx="421.6" cy="964.0" rx="4.6" ry="8.8" fill="#282828" filter="url(#bl2)"/>
<ellipse cx="428" cy="964.0" rx="4.6" ry="8.8" fill="#404040" filter="url(#bl2)"/>
<ellipse cx="443" cy="964.0" rx="4.6" ry="8.8" fill="#555" filter="url(#bl2)"/>
<ellipse cx="452" cy="964.0" rx="4.6" ry="8.8" fill="#666" filter="url(#bl2)"/>
<ellipse cx="460.6" cy="964.0" rx="4.6" ry="8.8" fill="#555" filter="url(#bl2)"/>
<circle cx="345.8" cy="967" r="1.3" fill="#ddd" filter="url(#bl1)"/>
<rect x="46.5" y="969.8" width="421" height="6" fill="#a0a0a0" opacity="0.4"/>
<rect x="46.5" y="970.6" width="421" height="0.8" fill="#b8b8b8" opacity="0.6"/>
<rect x="46.5" y="973.0" width="421" height="0.8" fill="#b8b8b8" opacity="0.6"/>
</g>
<text x="18.52" y="891.60" font-size="18.00" font-weight="bold" textLength="24.16" lengthAdjust="spacingAndGlyphs" fill="#000" >Bb</text>
<text x="13.00" y="928.20" font-size="18.00" font-weight="bold" textLength="32.12" lengthAdjust="spacingAndGlyphs" fill="#000" >C5a</text>
<text x="12.13" y="969.80" font-size="18.00" font-weight="bold" textLength="30.08" lengthAdjust="spacingAndGlyphs" fill="#000" >IgG</text>
<text x="468.17" y="892.90" font-size="18.40" font-weight="bold" textLength="47.30" lengthAdjust="spacingAndGlyphs" fill="#000" >57 kD</text>
<text x="468.57" y="930.90" font-size="18.40" font-weight="bold" textLength="37.89" lengthAdjust="spacingAndGlyphs" fill="#000" >9 kD</text>
<text x="468.17" y="970.00" font-size="18.40" font-weight="bold" textLength="47.30" lengthAdjust="spacingAndGlyphs" fill="#000" >50 kD</text>
</svg>
</body></html>
